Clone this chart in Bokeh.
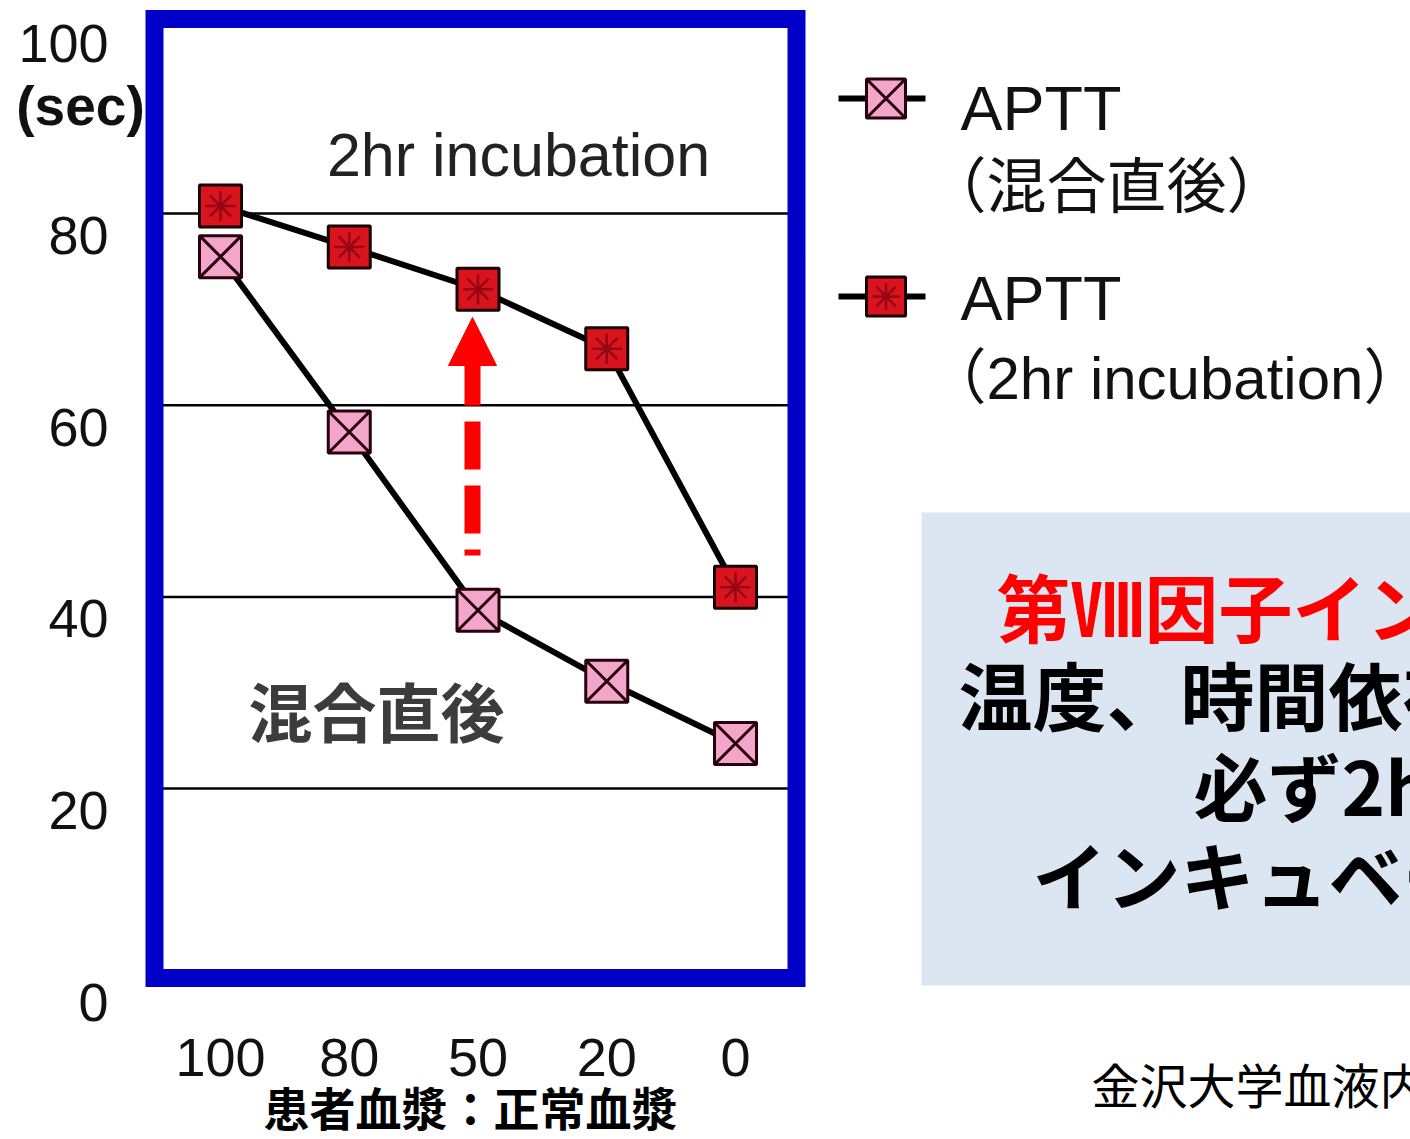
from bokeh.plotting import figure
from bokeh.models import Range1d, Arrow, NormalHead
from bokeh.core.properties import value
from bokeh.embed import file_html
from bokeh.resources import INLINE

# ---------------- data ----------------
ratios = ["100", "80", "50", "20", "0"]          # 患者血漿：正常血漿
aptt_immediate = [75.5, 57.2, 38.6, 31.2, 24.7]   # APTT（混合直後）
aptt_2hr = [80.8, 76.5, 72.1, 65.9, 41.0]         # APTT（2hr incubation）
y_ticks = [0, 20, 40, 60, 80, 100]
grid_values = [20, 40, 60, 80]
series_labels = [("APTT", "（混合直後）"), ("APTT", "（2hr incubation）")]

idx = list(range(len(ratios)))

# ---------------- layout helpers (canvas pixels -> data) ----------------
W, H = 1410, 1139
X0_PX, DX_PX = 220.0, 128.75
Y0_PX, DY_PX = 979.7, 9.583


def px_x(px):
    return (px - X0_PX) / DX_PX


def px_y(py):
    return (Y0_PX - py) / DY_PX


JP = value("Noto Sans CJK JP")
LAT = value("Liberation Sans")
LATJP = value("Liberation Sans, Noto Sans CJK JP")

p = figure(width=W, height=H, output_backend="svg", toolbar_location=None,
           x_range=Range1d(px_x(0), px_x(W)), y_range=Range1d(px_y(H), px_y(0)),
           min_border=0, x_axis_location=None, y_axis_location=None)
p.outline_line_color = None
p.grid.visible = False
p.background_fill_color = "white"
p.border_fill_color = "white"

# ---------------- tick labels ----------------
lab_off = 22 / DY_PX   # labels sit slightly below their grid lines in the original
p.text(x=[px_x(108)] * len(y_ticks), y=[v - lab_off for v in y_ticks],
       text=[str(v) for v in y_ticks], text_font=LAT, text_font_size="54px",
       text_color="#111111", text_align="right", text_baseline="middle")
p.text(x=[px_x(80)], y=[y_ticks[-1] - lab_off - 62 / DY_PX], text=["(sec)"],
       text_font=LAT, text_font_style="bold", text_font_size="55px",
       text_color="#111111", text_align="center", text_baseline="middle")
p.text(x=idx, y=[px_y(1057)] * len(idx), text=ratios, text_font=LAT,
       text_font_size="54px", text_color="#111111", text_align="center",
       text_baseline="middle")
p.text(x=[px_x(470)], y=[px_y(1105)], text=["患者血漿：正常血漿"], text_font=JP,
       text_font_style="bold", text_font_size="46px", text_color="black",
       text_align="center", text_baseline="middle")

# ---------------- grid lines inside the blue frame ----------------
bx0, bx1 = px_x(154), px_x(796)
by0, by1 = px_y(977.5), px_y(18.5)
p.segment(x0=[bx0] * len(grid_values), x1=[bx1] * len(grid_values),
          y0=grid_values, y1=grid_values, line_color="black", line_width=2.5)

# ---------------- series ----------------
PINK, RED = "#f2a7c9", "#d9141f"
p.line(idx, aptt_immediate, line_color="black", line_width=6)
p.line(idx, aptt_2hr, line_color="black", line_width=6)
p.scatter(idx, aptt_immediate, marker="square_x", size=42, fill_color=PINK,
          line_color="#2a0010", line_width=3)
p.scatter(idx, aptt_2hr, marker="square", size=42, fill_color=RED,
          line_color="#1a0000", line_width=3)
p.scatter(idx, aptt_2hr, marker="asterisk", size=30, line_color="#7a0010",
          line_width=2.5, line_alpha=0.7)

# ---------------- blue frame ----------------
p.quad(left=bx0, right=bx1, bottom=by0, top=by1, fill_color=None,
       line_color="#0000c8", line_width=18, line_join="miter")

# ---------------- arrow (dashed shaft + filled head) ----------------
ax = px_x(472)
p.segment(x0=[ax], x1=[ax], y0=[px_y(357)], y1=[px_y(555)], line_color="#ff0000",
          line_width=16, line_dash="48 16", line_cap="butt")
p.add_layout(Arrow(end=NormalHead(size=48, fill_color="#ff0000", line_color="#ff0000",
                                  line_width=1),
                   x_start=ax, y_start=px_y(366), x_end=ax, y_end=px_y(317),
                   line_color="#ff0000", line_width=16))

# ---------------- in-plot annotations ----------------
p.text(x=[px_x(518)], y=[px_y(154)], text=["2hr incubation"], text_font=LAT,
       text_font_size="61px", text_color="#222222", text_align="center",
       text_baseline="middle")
p.text(x=[px_x(376)], y=[px_y(708)], text=["混合直後"], text_font=JP,
       text_font_style="bold", text_font_size="64px", text_color="#3c3c3c",
       text_align="center", text_baseline="middle")

# ---------------- legend (drawn as keys + labels) ----------------
key_y = [px_y(98), px_y(296)]
p.segment(x0=[px_x(838)] * 2, x1=[px_x(925)] * 2, y0=key_y, y1=key_y,
          line_color="black", line_width=6)
p.scatter([px_x(885.5)], [key_y[0]], marker="square_x", size=39, fill_color=PINK,
          line_color="#2a0010", line_width=3)
p.scatter([px_x(885.5)], [key_y[1]], marker="square", size=39, fill_color=RED,
          line_color="#1a0000", line_width=3)
p.scatter([px_x(885.5)], [key_y[1]], marker="asterisk", size=27, line_color="#7a0010",
          line_width=2.5, line_alpha=0.7)
first_line_y = [px_y(107), px_y(297)]
second_line_y = [px_y(187), px_y(378)]
p.text(x=[px_x(960)] * 2, y=first_line_y, text=[s[0] for s in series_labels],
       text_font=LAT, text_font_size="63px", text_color="#111111",
       text_align="left", text_baseline="middle")
p.text(x=[px_x(926)] * 2, y=second_line_y, text=[s[1] for s in series_labels],
       text_font=LATJP, text_font_size="60px", text_color="#111111",
       text_align="left", text_baseline="middle")

# ---------------- note box ----------------
p.quad(left=px_x(921), right=px_x(1440), bottom=px_y(985), top=px_y(512),
       fill_color="#dce6f2", line_color=None)
note_text = ["第Ⅷ因子インヒビターは", "温度、時間依存性のため", "必ず2hr", "インキュベーション"]
note_color = ["#ff0000", "black", "black", "black"]
note_left = [996, 958, 1193, 1032]
note_mid = [604, 692, 783, 872]
p.text(x=[px_x(v) for v in note_left], y=[px_y(v) for v in note_mid], text=note_text,
       text_color=note_color, text_font=JP, text_font_style="bold",
       text_font_size="74px", text_align="left", text_baseline="middle")

p.text(x=[px_x(1091)], y=[px_y(1082)], text=["金沢大学血液内科"], text_font=JP,
       text_font_size="48px", text_color="black", text_align="left",
       text_baseline="middle")

open("out.html", "w").write(file_html(p, INLINE))
